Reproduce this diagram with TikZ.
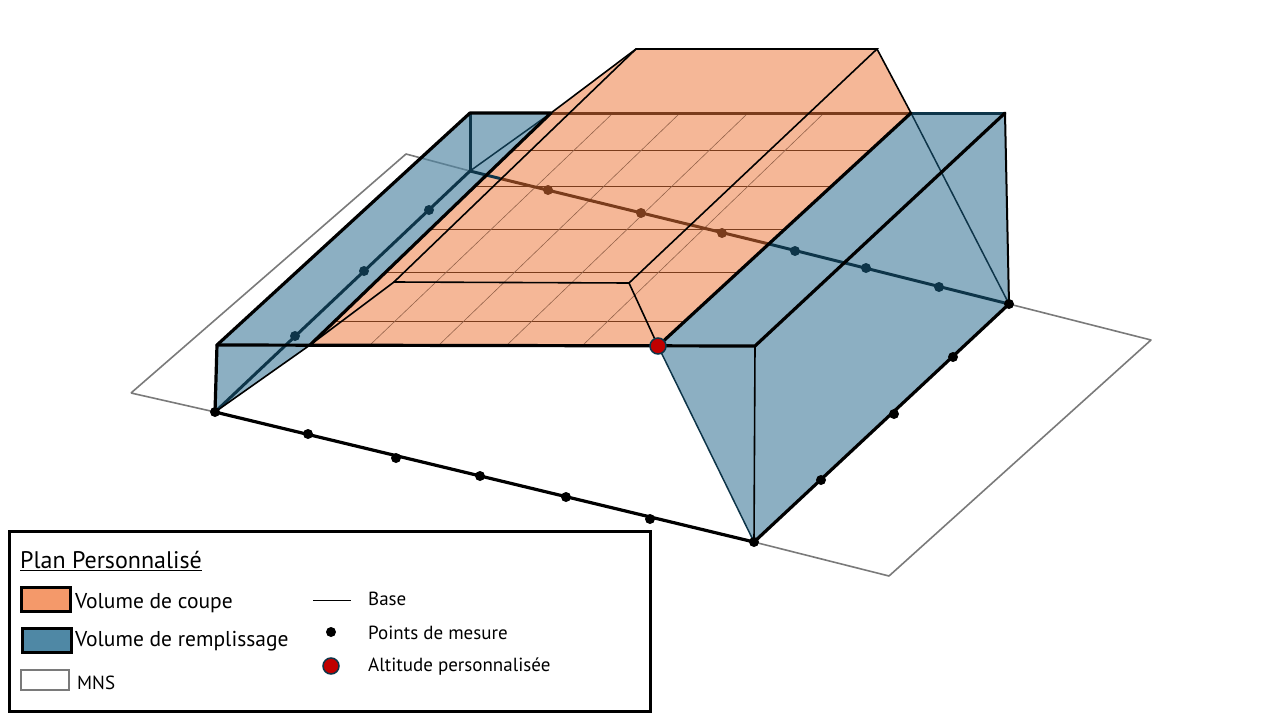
\documentclass[tikz,border=0pt]{standalone}
\usepackage{fontspec}
\setmainfont{PT Sans}
\tikzset{
  mnsline/.style={draw=mnsgray,line width=1.6pt,line join=round},
  heavy/.style={draw=black,line width=3.2pt,line cap=round,line join=round},
  medium/.style={draw=black,line width=2pt,line cap=round},
  fineblack/.style={draw=black,line width=1.6pt,line cap=round},
  bluefill/.style={fill=fillblue,fill opacity=.65,draw=none},
  orangefill/.style={fill=fillorange,fill opacity=.65,draw=none},
  bluethick/.style={draw=darkblue,line width=3pt},
  bluethin/.style={draw=darkblue,line width=1.5pt},
  brownthick/.style={draw=darkbrown,line width=3pt},
  gridh/.style={draw=darkbrown,line width=1pt},
  gridd/.style={draw=darkbrown!80,line width=.6pt},
  measure/.style={circle,fill=black,inner sep=0pt,minimum size=10pt},
  bluept/.style={circle,fill=darkblue,inner sep=0pt,minimum size=10pt},
  brownpt/.style={circle,fill=darkbrown,inner sep=0pt,minimum size=10pt},
  redpt/.style={circle,fill=altred,draw=darkblue,line width=1.5pt,inner sep=0pt,minimum size=16pt},
  swatch/.style={line width=3pt,draw=black,outer sep=0pt},
  legendtext/.style={anchor=west,inner sep=0pt,font=\fontsize{21.5pt}{24pt}\selectfont},
  legendsmall/.style={anchor=west,inner sep=0pt,font=\fontsize{19pt}{22pt}\selectfont},
}
\definecolor{mnsgray}{HTML}{7A7A7A}
\definecolor{fillblue}{HTML}{4E84A1}
\definecolor{fillorange}{HTML}{EF9160}
\definecolor{darkblue}{HTML}{0E3549}
\definecolor{darkbrown}{HTML}{7A3C1C}
\definecolor{altred}{HTML}{C00000}
\definecolor{swatchorange}{HTML}{F4996A}
\definecolor{swatchblue}{HTML}{4F88A5}
\begin{document}
\begin{tikzpicture}[x=1pt,y=-1pt]
\useasboundingbox (0,0) rectangle (1280,720);
% corner points
\coordinate (m1) at (131,393); \coordinate (m2) at (406,154);
\coordinate (m3) at (1151,340); \coordinate (m4) at (889,576);
\coordinate (fl) at (215,412); \coordinate (fr) at (754,542); \coordinate (br) at (1009,304);
\coordinate (tl) at (217,345); \coordinate (tb) at (470,113); \coordinate (lb) at (551,113);
\coordinate (lf) at (310,345); \coordinate (ctr) at (470,171);
\coordinate (pk) at (658,346); \coordinate (rb) at (911,113); \coordinate (far) at (1005,113);
\coordinate (rf) at (755,346);
\coordinate (b1) at (394,282); \coordinate (b2) at (629,283);
\coordinate (b3) at (877,49); \coordinate (b4) at (636,49);
\coordinate (ox) at (769,244);
% MNS plane
\draw[mnsline] (m1) -- (m2) -- (ctr) (br) -- (m3) -- (m4) -- (fr) (fl) -- (m1);
% fills
\path[bluefill] (tl) -- (tb) -- (lb) -- (lf) -- (fl) -- cycle;
\path[bluefill] (pk) -- (rb) -- (far) -- (br) -- (fr) -- cycle;
\path[orangefill] (lf) -- (pk) -- (rb) -- (b3) -- (b4) -- (lb) -- cycle;
% grid on the cut surface
\foreach \ya/\xa/\xb in {150/513/871,186/476/832,229/431/785,272/385/738,321/336/685}
  \draw[gridh] (\xa,\ya) -- (\xb,\ya);
\foreach \xa/\xb in {370/612,439/679,507/747,583/823}
  \draw[gridd] (\xa,345) -- (\xb,114);
% section line
\draw[bluethick] (ctr) -- (500,178.5);
\draw[brownthick] (500,178.5) -- (ox);
\draw[bluethick] (ox) -- (br);
\draw[brownthick] (lb) -- (rb);
\draw[bluethick] (rb) -- (far);
% left fill edges
\draw[bluethick] (tb) -- (ctr);
\draw[bluethin] (ctr) -- (lb);
\draw[bluethick] (fl) -- (ctr);
% base
\draw[fineblack] (lf) -- (b1) -- (b2) -- (pk);
\draw[fineblack] (b1) -- (b4) -- (b3) -- (b2);
\draw[fineblack] (lb) -- (b4);
\draw[fineblack] (b3) -- (rb);
% right fill edges
\draw[bluethin] (rb) -- (br);
\draw[bluethin] (pk) -- (fr);
\draw[fineblack] (rf) -- (fr);
\draw[medium] (far) -- (br);
\draw[fineblack] (fl) -- (lf);
% heavy outline
\draw[heavy] (fl) -- (tl) -- (tb) -- (lb) -- (lf);
\draw[heavy] (tl) -- (rf) -- (far);
\draw[heavy] (pk) -- (rb);
\draw[heavy] (fl) -- (fr) -- (br);
% points
\foreach \n/\p in {a1/{308,434},a2/{396,458},a3/{480,476},a4/{566,497},a5/{650,519},a6/{821,480},a7/{894,414},a8/{953,357},a9/{215,412},a10/{754,542},a11/{1009,304}}
  \node[measure] (\n) at (\p) {};
\foreach \n/\p in {c1/{295,336},c2/{364,271},c3/{429,210},c4/{795,251},c5/{866,268},c6/{939,287}}
  \node[bluept] (\n) at (\p) {};
\foreach \n/\p in {d1/{548,190},d2/{641,213},d3/{722,233}}
  \node[brownpt] (\n) at (\p) {};
\node[redpt] (alt) at (pk) {};
% legend
\node[draw=black,line width=3pt,fill=white,outer sep=0pt,minimum width=641pt,minimum height=180pt,inner sep=0pt,anchor=north west] (legend) at (9,531) {};
\node[anchor=west,inner sep=0pt,font=\fontsize{24pt}{28pt}\selectfont] (ttl) at (20,561) {\underline{Plan Personnalisé}};
\node[swatch,fill=swatchorange,minimum width=49pt,minimum height=24pt,inner sep=0pt,anchor=north west] (s1) at (21,587) {};
\node[swatch,fill=swatchblue,minimum width=49pt,minimum height=24pt,inner sep=0pt,anchor=north west] (s2) at (22,628) {};
\node[draw=mnsgray,line width=1.8pt,fill=white,outer sep=0pt,minimum width=48pt,minimum height=20pt,inner sep=0pt,anchor=north west] (s3) at (21,670) {};
\node[legendtext] (t1) at (75,603) {Volume de coupe};
\node[legendtext] (t2) at (75,641) {Volume de remplissage};
\node[legendsmall] (t3) at (77,682.5) {MNS};
\coordinate (la) at (313,600); \coordinate (lz) at (351,600);
\draw[draw=black,line width=1pt] (la) -- (lz);
\node[measure] (lp) at (331,632) {};
\node[redpt] (lr) at (331,666) {};
\node[legendsmall] (t4) at (368,599) {Base};
\node[legendsmall] (t5) at (368,633) {Points de mesure};
\node[legendsmall] (t6) at (368,667) {Altitude personnalisée};
\end{tikzpicture}
\end{document}
